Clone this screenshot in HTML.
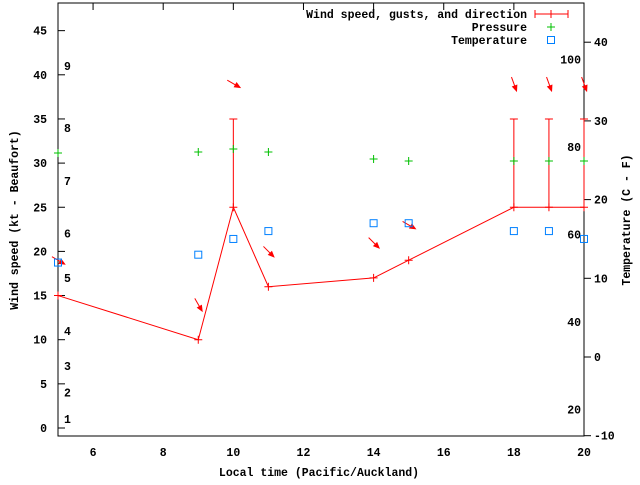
<!DOCTYPE html>
<html><head><meta charset="utf-8"><style>
body{margin:0;background:#fff;}
svg text{font-family:"Liberation Mono",monospace;font-weight:bold;font-size:11.5px;fill:#000;}
</style></head><body>
<svg id="chart" width="640" height="480" viewBox="0 0 640 480">
<g id="axes"></g><g id="marks"></g><g id="legend"></g>
</svg>
<script>
const hours = [5, 9, 10, 11, 14, 15, 18, 19, 20];
const windSpeed = [15, 10, 25, 16, 17, 19, 25, 25, 25];
const windGust = [null, null, 35, null, null, null, 35, 35, 35];
const windDir = [300, 330, 300, 315, 315, 300, 340, 340, 340];
const pressure = [1015.4, 1015.5, 1015.8, 1015.5, 1014.8, 1014.6, 1014.6, 1014.6, 1014.6];
const temperature = [12, 13, 15, 16, 17, 17, 16, 16, 15];
const xTicks = [6, 8, 10, 12, 14, 16, 18, 20];
const yTicks = [0, 5, 10, 15, 20, 25, 30, 35, 40, 45];
const y2Ticks = [-10, 0, 10, 20, 30, 40];
const fLabels = [20, 40, 60, 80, 100];
const beaufort = [[1,1],[2,4],[3,7],[4,11],[5,17],[6,22],[7,28],[8,34],[9,41]];

const L=58,R=584,T=3,B=436;
const X=h=>L+(h-5)*(R-L)/15;
const Y=v=>428-v*8.83;
const Y2=c=>357-c*7.87;
const YP=p=>153-(p-1015.4)*10;
const NS='http://www.w3.org/2000/svg';
function mk(tag,attrs,parent,txt){const e=document.createElementNS(NS,tag);for(const k in attrs)e.setAttribute(k,attrs[k]);if(txt!==undefined)e.textContent=txt;parent.appendChild(e);return e;}
const ax=document.getElementById('axes'),mg=document.getElementById('marks'),lg=document.getElementById('legend');

let e=mk('rect',{x:L,y:T,width:R-L,height:B-T,fill:'none',stroke:'#000','stroke-width':1},ax);


xTicks.forEach(t=>{
 let l=mk('line',{x1:X(t),x2:X(t),y1:T,y2:T+7,stroke:'#000'},ax);
 
 
 let tx=mk('text',{x:X(t),y:456,'text-anchor':'middle'},ax,String(t));
 
 
});
yTicks.forEach(t=>{
 let l=mk('line',{x1:L,x2:L+7,y1:Y(t),y2:Y(t),stroke:'#000'},ax);
 
 
 let tx=mk('text',{x:47,y:Y(t)+4,'text-anchor':'end'},ax,String(t));
 
 
});
y2Ticks.forEach(t=>{
 let l=mk('line',{x1:R,x2:R+7,y1:Y2(t),y2:Y2(t),stroke:'#000'},ax);
 
 
 let tx=mk('text',{x:594,y:Y2(t)+4},ax,String(t));
 
 
});
fLabels.forEach(f=>{
 let tx=mk('text',{x:581,y:Y2((f-32)*5/9)+4,'text-anchor':'end'},ax,String(f));
 
 
});
beaufort.forEach(b=>{
 let tx=mk('text',{x:64,y:Y(b[1])+4},ax,String(b[0]));
 
 
});
e=mk('text',{x:319,y:476,'text-anchor':'middle'},ax,'Local time (Pacific/Auckland)');


e=mk('text',{x:0,y:0,'text-anchor':'middle',transform:'translate(18,220) rotate(-90)'},ax,'Wind speed (kt - Beaufort)');


e=mk('text',{x:0,y:0,'text-anchor':'middle',transform:'translate(630,220) rotate(-90)'},ax,'Temperature (C - F)');



// wind line
let pts=hours.map((h,i)=>X(h)+','+Y(windSpeed[i])).join(' ');
e=mk('polyline',{points:pts,fill:'none',stroke:'#f00','stroke-width':1},mg);


hours.forEach((h,i)=>{
 const x=X(h),y=Y(windSpeed[i]);
 let p=mk('path',{d:`M${x-4},${y}h8M${x},${y-4}v8`,stroke:'#f00'},mg);
 
 
 if(windGust[i]!==null){
  const g=Y(windGust[i]);
  let b=mk('path',{d:`M${x},${y}V${g}M${x-4},${g}h8`,stroke:'#f00'},mg);
  
  
 }
 const top=(windGust[i]!==null?windGust[i]:windSpeed[i])+4;
 const cy=Y(top),a=windDir[i]*Math.PI/180;
 const dx=-Math.sin(a),dy=Math.cos(a);
 const x1=x-dx*7,y1=cy-dy*7,x2=x+dx*7,y2=cy+dy*7;
 let ar=mk('line',{x1:x1,y1:y1,x2:x2,y2:y2,stroke:'#f00'},mg);
 
 
 const px=-dy,py=dx;
 let hd=mk('polygon',{points:`${x2+dx*2},${y2+dy*2} ${x2-dx*5+px*3},${y2-dy*5+py*3} ${x2-dx*5-px*3},${y2-dy*5-py*3}`,fill:'#f00'},mg);
 
 
});
pressure.forEach((p,i)=>{
 const x=X(hours[i]),y=YP(p);
 let m=mk('path',{d:`M${x-4},${y}h8M${x},${y-4}v8`,stroke:'#00c000'},mg);
 
 
});
temperature.forEach((t,i)=>{
 const x=X(hours[i]),y=Y2(t);
 let m=mk('rect',{x:x-3.5,y:y-3.5,width:7,height:7,fill:'none',stroke:'#0080ff'},mg);
 
 
});

// legend
e=mk('text',{x:527,y:18,'text-anchor':'end'},lg,'Wind speed, gusts, and direction');


e=mk('path',{d:'M535,14h33M535,10v8M568,10v8M551,10v8',stroke:'#f00'},lg);


e=mk('text',{x:527,y:31,'text-anchor':'end'},lg,'Pressure');


e=mk('path',{d:'M547,27h8M551,23v8',stroke:'#00c000'},lg);


e=mk('text',{x:527,y:44,'text-anchor':'end'},lg,'Temperature');


e=mk('rect',{x:547.5,y:36.5,width:7,height:7,fill:'none',stroke:'#0080ff'},lg);


</script>
</body></html>
